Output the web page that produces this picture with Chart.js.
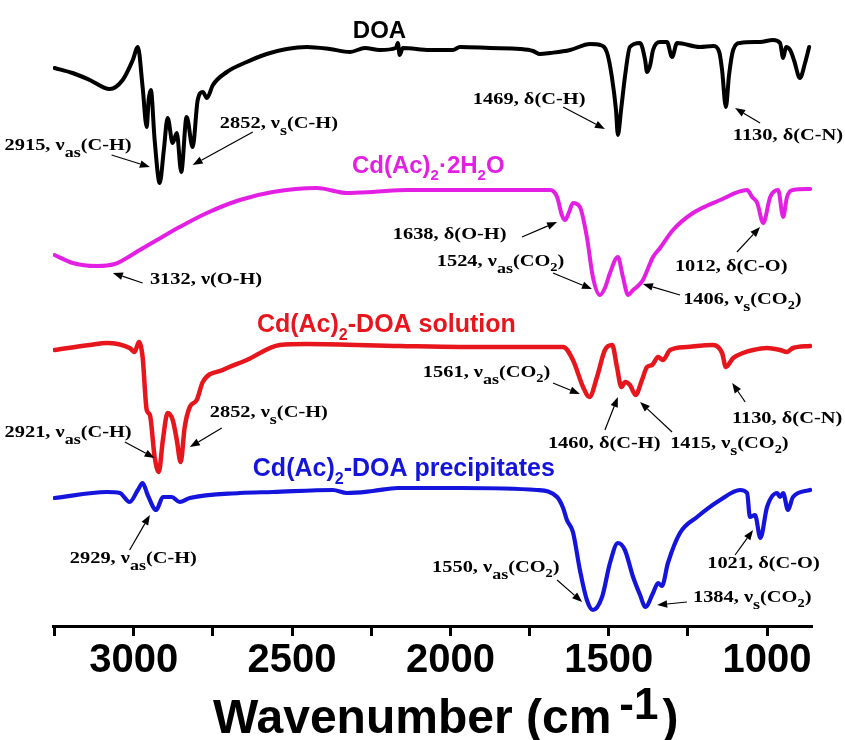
<!DOCTYPE html>
<html>
<head>
<meta charset="utf-8">
<script src="https://cdn.jsdelivr.net/npm/chart.js@4.4.1/dist/chart.umd.min.js"></script>
<style>
html,body{margin:0;padding:0;background:#fff;}
#wrap{width:845px;height:740px;}
</style>
</head>
<body>
<div id="wrap"><canvas id="c" width="845" height="740"></canvas></div>
<script>
// ---------------- DATA (wavenumber in cm-1, offset transmittance in a.u.) ----------------
const doaWn = [3250,3193,3139,3076,3035,3003,2987,2972,2959,2953,2946,2934,2918,2905,2893,2877,2864,2850,2833,2814,2798,2782,2769,2750,2706,2643,2580,2517,2453,2381,2317,2270,2223,2172,2166,2160,2150,2065,1992,1970,1875,1780,1739,1717,1685,1622,1559,1527,1505,1490,1477,1471,1461,1448,1433,1401,1385,1379,1369,1360,1338,1316,1300,1284,1212,1170,1151,1142,1130,1120,1107,1085,1022,981,959,949,940,927,915,896,880,867];
const doaT  = [558,553,546,537,546,566,579,539,499,526,536,486,443,476,508,483,493,454,509,479,526,534,528,541,554,564,572,577,579,577,574,578,576,578,583,571,578,576,576,579,578,577,575,572,573,576,582,581,573,549,516,491,516,551,579,583,566,554,561,576,584,584,569,583,579,580,574,556,519,551,576,583,584,586,583,568,579,576,566,548,563,579];

const hydWn = [3250,3193,3117,3060,3022,2981,2927,2855,2769,2665,2561,2422,2327,2245,2137,1970,1843,1685,1663,1648,1638,1625,1613,1591,1569,1550,1528,1512,1496,1471,1455,1439,1423,1411,1392,1360,1338,1297,1234,1148,1063,1047,1031,1012,990,965,949,937,918,864];
const hydT  = [371,363,360,362,368,376,386,399,413,426,434,438,433,434,436,436,436,436,429,411,406,414,423,419,389,349,331,338,353,369,349,331,336,339,346,369,378,396,413,426,436,429,423,403,429,436,409,429,436,437];

const solWn = [3250,3139,3085,3013,2997,2984,2972,2959,2949,2934,2921,2908,2893,2877,2864,2852,2839,2823,2801,2782,2719,2643,2539,2453,2159,1970,1644,1613,1581,1561,1537,1512,1489,1474,1460,1448,1433,1415,1395,1379,1363,1344,1329,1306,1253,1170,1142,1130,1107,1076,1044,1000,959,937,918,864];
const solT  = [276,281,283,278,274,284,269,216,211,169,154,186,213,206,186,164,199,219,226,244,256,266,281,282,280,279,279,266,239,229,249,276,281,259,239,244,241,231,246,259,261,269,266,276,279,281,273,259,268,273,276,278,276,274,278,280];

const preWn = [3250,3085,3044,3013,2987,2972,2956,2929,2908,2880,2855,2823,2665,2561,2371,2327,2245,2166,1970,1727,1663,1644,1632,1613,1591,1569,1550,1521,1496,1471,1449,1423,1401,1384,1360,1344,1332,1313,1275,1221,1148,1085,1063,1054,1038,1021,1000,968,959,949,934,918,864];
const preT  = [128,134,133,124,136,143,131,116,129,129,124,128,133,134,136,133,135,138,138,136,129,118,106,94,56,26,16,29,63,83,76,49,31,19,33,43,40,63,93,109,126,136,133,109,111,88,119,133,129,133,116,129,136];

const seriesNames = ["DOA", "Cd(Ac)_{2}·2H_{2}O", "Cd(Ac)_{2}-DOA solution", "Cd(Ac)_{2}-DOA precipitates"];
const tickLabels = [3000, 2500, 2000, 1500, 1000];
const axisTitle = ["Wavenumber (cm", "-1", ")"];

const annotationTexts = [
  "2915, ν_{as}(C-H)", "2852, ν_{s}(C-H)", "1469, δ(C-H)", "1130, δ(C-N)",
  "3132, ν(O-H)", "1638, δ(O-H)", "1524, ν_{as}(CO_{2})", "1406, ν_{s}(CO_{2})", "1012, δ(C-O)",
  "2921, ν_{as}(C-H)", "2852, ν_{s}(C-H)", "1561, ν_{as}(CO_{2})", "1460, δ(C-H)", "1415, ν_{s}(CO_{2})", "1130, δ(C-N)",
  "2929, ν_{as}(C-H)", "1550, ν_{as}(CO_{2})", "1384, ν_{s}(CO_{2})", "1021, δ(C-O)"
];

// ---------------- LAYOUT (in data coordinates, converted through the chart scales) ----------------
const seriesLabelPos = [[2308,588],[2311,453],[2611,294],[2624,150]];
const annotationPos = [
  [3408,476],[2728,498],[1929,522],[1108,486],
  [2949,342],[2182,387],[2043,360],[1265,322],[1291,355],
  [3408,189],[2760,209],[2087,249],[1692,178],[1306,178],[1111,203],
  [3202,63],[2058,54],[1234,24],[1189,58]
];
const arrowPos = [
  [3070,471,2949,459],[2624,494,2814,461],[1644,519,1512,497],[1022,503,1101,518],
  [2972,343,3066,353],[1774,389,1663,404],[1676,353,1553,337],[1275,331,1392,342],[1095,374,1022,399],
  [3028,184,2934,168],[2722,198,2823,179],[1676,243,1591,232],[1512,196,1471,229],[1300,194,1401,224],[1069,224,1110,243],
  [3013,76,2949,111],[1663,46,1584,24],[1253,24,1347,21],[1101,71,1044,96]
];

const colors = ['#000000', '#e41fe4', '#e6161c', '#1414dc'];

function zip(xs, ys){ const n=Math.min(xs.length, ys.length); const o=[]; for(let i=0;i<n;i++) o.push({x:xs[i], y:ys[i]}); return o; }

function parseRich(s){
  const segs=[]; const re=/_\{([^}]*)\}/g; let last=0, m;
  while((m=re.exec(s))){ if(m.index>last) segs.push([s.slice(last,m.index),0]); segs.push([m[1],1]); last=re.lastIndex; }
  if(last<s.length) segs.push([s.slice(last),0]);
  return segs;
}

function drawRich(ctx, x, y, str, opt){
  const segs=parseRich(str);
  ctx.save(); ctx.translate(x,y); ctx.scale(opt.sx||1,1);
  ctx.fillStyle=opt.color; ctx.textBaseline='alphabetic'; ctx.textAlign='left';
  let cx=0;
  for(const [t,k] of segs){
    let fs=opt.size, dy=0;
    if(k===1){
      const digit=/^\d+$/.test(t);
      fs=Math.round(opt.size*(digit?opt.subDigit:opt.subLetter));
      dy=opt.size*(digit?opt.dyDigit:opt.dyLetter);
    }
    ctx.font='bold '+fs+'px '+opt.family;
    ctx.fillText(t,cx,dy);
    cx+=ctx.measureText(t).width;
  }
  ctx.restore();
}

function arrow(ctx,x1,y1,x2,y2){
  const a=Math.atan2(y2-y1,x2-x1), L=10, W=3.8;
  const bx=x2-L*Math.cos(a), by=y2-L*Math.sin(a);
  ctx.save(); ctx.strokeStyle='#000'; ctx.fillStyle='#000'; ctx.lineWidth=1.2;
  ctx.beginPath(); ctx.moveTo(x1,y1); ctx.lineTo(bx,by); ctx.stroke();
  ctx.beginPath(); ctx.moveTo(x2,y2);
  ctx.lineTo(bx+W*Math.sin(a), by-W*Math.cos(a));
  ctx.lineTo(bx-W*Math.sin(a), by+W*Math.cos(a));
  ctx.closePath(); ctx.fill(); ctx.restore();
}

const overlay = {
  id:'overlay',
  afterDraw(chart){
    const ctx=chart.ctx, xs=chart.scales.x, ys=chart.scales.y;
    const P=(w,v)=>[xs.getPixelForValue(w), ys.getPixelForValue(v)];
    seriesNames.forEach((n,i)=>{
      const [px,py]=P(seriesLabelPos[i][0], seriesLabelPos[i][1]);
      drawRich(ctx,px,py,n,{size:i===0||i===1?24:25,family:"'Liberation Sans', Arial, sans-serif",color:colors[i],
        subDigit:0.64,subLetter:0.64,dyDigit:0.3,dyLetter:0.3});
    });
    annotationTexts.forEach((t,i)=>{
      const [px,py]=P(annotationPos[i][0], annotationPos[i][1]);
      drawRich(ctx,px,py,t,{size:17,sx:1.2,family:"'Liberation Serif', 'Times New Roman', serif",color:'#000',
        subDigit:0.72,subLetter:0.9,dyDigit:0.32,dyLetter:0.42});
    });
    arrowPos.forEach(a=>{
      const [x1,y1]=P(a[0],a[1]); const [x2,y2]=P(a[2],a[3]);
      arrow(ctx,x1,y1,x2,y2);
    });
    // axis title with superscript
    ctx.save(); ctx.fillStyle='#000'; ctx.textBaseline='alphabetic'; ctx.textAlign='left';
    const fam="'Liberation Sans', Arial, sans-serif";
    let x=213; const base=733;
    ctx.font='bold 48px '+fam; ctx.fillText(axisTitle[0],x,base); x+=ctx.measureText(axisTitle[0]).width+8;
    ctx.font='bold 44px '+fam; ctx.fillText(axisTitle[1],x,base-14); x+=ctx.measureText(axisTitle[1]).width+4;
    ctx.font='bold 48px '+fam; ctx.fillText(axisTitle[2],x,base);
    ctx.restore();
  }
};

new Chart(document.getElementById('c'), {
  type:'line',
  data:{ datasets:[
    {label:'DOA', data:zip(doaWn,doaT), borderColor:colors[0], borderWidth:4},
    {label:'Cd(Ac)2·2H2O', data:zip(hydWn,hydT), borderColor:colors[1], borderWidth:4},
    {label:'Cd(Ac)2-DOA solution', data:zip(solWn,solT), borderColor:colors[2], borderWidth:4.5},
    {label:'Cd(Ac)2-DOA precipitates', data:zip(preWn,preT), borderColor:colors[3], borderWidth:4.2}
  ].map(d=>Object.assign(d,{pointRadius:0, fill:false, cubicInterpolationMode:'monotone', borderJoinStyle:'round', borderCapStyle:'round'}))},
  options:{
    responsive:false, animation:false, devicePixelRatio:1,
    layout:{padding:{left:53,right:33,top:0,bottom:0}},
    plugins:{legend:{display:false}, tooltip:{enabled:false}},
    scales:{
      x:{type:'linear', reverse:true, min:858, max:3255,
        afterFit(s){ s.height=114; },
        border:{display:true,color:'#000',width:3},
        grid:{drawOnChartArea:false, drawTicks:true, tickLength:10, tickWidth:3, tickColor:'#000'},
        ticks:{stepSize:250, includeBounds:false, autoSkip:false, maxRotation:0, padding:1, color:'#000',
          font:{family:"'Liberation Sans', Arial, sans-serif", size:40, weight:'bold'},
          callback:(v)=> tickLabels.includes(v) ? String(v) : ''}
      },
      y:{display:false, min:0, max:626}
    }
  },
  plugins:[overlay]
});
</script>
</body>
</html>
